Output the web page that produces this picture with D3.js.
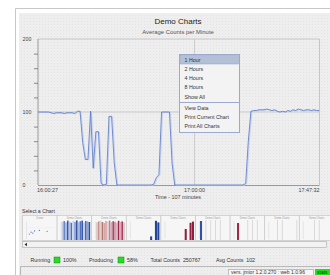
<!DOCTYPE html>
<html><head><meta charset="utf-8">
<script src="https://cdn.jsdelivr.net/npm/d3@7"></script>
<style>
body{margin:0;background:#fff;}
svg{display:block;font-family:"Liberation Sans",Arial,sans-serif;}
</style>
</head><body>
<svg id="c" width="330" height="275"></svg>
<script>
// ---------- DATA ----------
const chartTitle = "Demo Charts";
const chartSubtitle = "Average Counts per Minute";
const xAxisTitle = "Time - 107 minutes";
const startTime = "16:00:27";
const endTime = "17:47:32";
const xTickLabels = ["16:00:27", "17:00:00", "17:47:32"];
const yTickLabels = [0, 100, 200];
const yMinorTicks = [20, 40, 60, 80, 120, 140, 160, 180];
// one value per minute from startTime
const counts = [
  100,100,100,100,100,99,98,99,99,99,98,99,99,99,98,101,101,58,35,35,
  101,23,73,73,2,0,1,94,94,30,0,
  0,0,0,0,0,0,0,0,0,0,0,0,0,
  1,10,14,100,100,100,100,30,0,
  0,0,0,0,0,0,0,0,0,0,0,0,0,0,0,0,0,0,0,0,0,0,0,0,0,0,
  2,60,101,
  102,102,103,103,103,104,103,102,103,101,100,101,100,102,101,103,102,104,103,102,103,103,102,103,102,102
];
const menuRanges = ["1 Hour", "2 Hours", "4 Hours", "8 Hours", "Show All"];
const menuActions = ["View Data", "Print Current Chart", "Print All Charts"];
const selectLabel = "Select a Chart";
const thumbTitles = ["Demo", "Demo Charts", "Demo Charts", "Demo Charts", "Demo Charts", "Demo Charts", "Demo Charts", "Demo Charts", "Demo Charts"];
const thumbScatterX = [10, 16, 22, 28, 45, 72];
const thumbScatterY = [25, 35, 30, 42, 45, 40];
const thumbBlueDense = [90,95,88,97,92,86,96,91,98,89,94,97,87,95,93,90];
const thumbRedDense  = [88,93,96,90,85,95,92,97,89,94,91,86,96,90,93,88];
const thumbSeries = [
  [0,0,0,0,0,0,0,0,18,0,96,88],
  [0,0,0,0,0,0,0,0,55,0,86,92],
  [95,0,0,0,0,0,0,0,0,0,0,0],
  [0,85,0,0,0,0,0,0,0,0,0,0],
  [0,0,0,0,0,0,0,0,0,0,0,0],
  [0,0,0,0,0,0,0,0,0,0,0,0]
];
const thumbGray = [
  [0,0,0,0,0,0,0,0,0,0,0,0],
  [0,0,0,0,0,0,0,0,0,0,0,0],
  [0,0,100,0,100,0,100,0,100,0,0,0],
  [0,0,0,0,0,100,0,100,0,100,0,0],
  [0,0,0,100,0,100,0,0,0,0,0,100],
  [0,0,0,0,100,0,100,0,0,0,0,0]
];
const statusLabels = ["Running", "Producing"];
const statusValues = ["100%", "58%"];
const totalCountsLabel = "Total Counts  250767";
const avgCountsLabel = "Avg Counts  102";
const versionLabel = "vers. jmior 1.2.0.270 : web 1.0.96";
const statsLabel = "stats";

// ---------- STYLE ----------
const blueShades = ["#c3cde8","#6a86c8","#9caedc","#3a5ca6","#b4c2e4","#4f70bc","#ccd5ec","#7f98d4","#34559e","#a8b8e0","#5273c0","#3b5ca8","#bcc8e6","#4a6bb6","#8ea3d8","#2e4f98"];
const redShades  = ["#dcc0c0","#c09488","#e6ccd0","#b07a70","#d4a8a8","#d49cac","#e8d0d4","#bc8494","#d8a8b4","#a44a66","#c88aa0","#e4b4c2","#962a50","#dcaab8","#aa3a60","#d0c4c4"];
const seriesColors = ["#24449a","#902040","#2f52b0","#a02848","#24449a","#24449a"];

const svg = d3.select("#c");
const defs = svg.append("defs");
const pat = defs.append("pattern").attr("id","dots").attr("width",3).attr("height",3).attr("patternUnits","userSpaceOnUse");
pat.append("rect").attr("width",3).attr("height",3).attr("fill","#eeeeee");
pat.append("rect").attr("width",1).attr("height",1).attr("fill","#e3e3e3");

// outer frame
svg.append("rect").attr("width",330).attr("height",275).attr("fill","#fff");
svg.append("path").attr("d","M15.5,275V8.5H330").attr("fill","none").attr("stroke","#c8c8c8");
svg.append("rect").attr("x",19).attr("y",13).attr("width",311).attr("height",262).attr("fill","url(#dots)");

// title
svg.append("text").attr("x",178).attr("y",24).attr("text-anchor","middle").attr("font-size",8).attr("fill","#222").text(chartTitle);
svg.append("text").attr("x",178).attr("y",33.5).attr("text-anchor","middle").attr("font-size",5.9).attr("fill","#555").text(chartSubtitle);

// scales
const parse = d3.timeParse("%H:%M:%S");
const t0 = parse(startTime), t1 = parse(endTime);
const x = d3.scaleTime().domain([t0, t1]).range([38, 319.5]);
const y = d3.scaleLinear().domain([0, 200]).range([185, 39]);

// plot frame
svg.append("path").attr("d",`M${x.range()[0]},${y(200)}H${x.range()[1]}V${y(0)}`).attr("fill","none").attr("stroke","#c6c6c6").attr("stroke-width",1);
// grid
svg.append("line").attr("x1",x.range()[0]).attr("x2",x.range()[1]).attr("y1",y(100)).attr("y2",y(100)).attr("stroke","#c8c8c8");
svg.append("line").attr("x1",x(parse("17:00:00"))).attr("x2",x(parse("17:00:00"))).attr("y1",y(200)).attr("y2",y(0)).attr("stroke","#cccccc");

// y axis
const yAxis = d3.axisLeft(y).tickValues(yMinorTicks).tickSize(4).tickFormat("");
const gy = svg.append("g").attr("transform",`translate(${x.range()[0]},0)`).call(yAxis);
gy.select(".domain").attr("stroke","#9a9a9a").attr("d",`M0,${y(200)}V${y(0)}`);
gy.selectAll(".tick line").attr("stroke","#888");
svg.selectAll(".ylab").data(yTickLabels).enter().append("text").attr("class","ylab")
  .attr("x",22.5).attr("y",d=>y(d)+1.8).attr("font-size",5.3).attr("fill","#444").text(d=>d);

// x axis
svg.append("line").attr("x1",x.range()[0]).attr("x2",x.range()[1]).attr("y1",y(0)+0.5).attr("y2",y(0)+0.5).attr("stroke","#9a9a9a");
const anchors = ["start","middle","end"];
svg.selectAll(".xlab").data(xTickLabels).enter().append("text").attr("class","xlab")
  .attr("x",(d,i)=>x(parse(d)) + (i==0?-1:0))
  .attr("y",191.5).attr("text-anchor",(d,i)=>anchors[i]).attr("font-size",5.4).attr("fill","#444").text(d=>d);
svg.append("text").attr("x",178).attr("y",198.5).attr("text-anchor","middle").attr("font-size",5.4).attr("fill","#444").text(xAxisTitle);

// line
const pts = counts.map((v,i)=>({t:new Date(t0.getTime()+i*60000), v}));
const line = d3.line().x(d=>x(d.t)).y(d=>y(d.v));
svg.append("path").datum(pts).attr("d",line).attr("fill","none").attr("stroke","#c2cdec").attr("stroke-width",0.9).attr("transform","translate(1,0.4)");
svg.append("path").datum(pts).attr("d",line).attr("fill","none").attr("stroke","#5a7acb").attr("stroke-width",0.85);

// popup menu
const mx = 179, my = 54, mw = 60, mh = 78, rowH = 9.2;
const menu = svg.append("g");
menu.append("rect").attr("x",mx+0.5).attr("y",my+0.5).attr("width",mw).attr("height",mh).attr("fill","#f3f3f4").attr("stroke","#9caad0");
menu.append("rect").attr("x",mx+1.5).attr("y",my+1.5).attr("width",mw-2).attr("height",rowH-0.7).attr("fill","#b4c0d6").attr("stroke","#8e9fc6").attr("stroke-width",0.5);
menu.selectAll(".mr").data(menuRanges).enter().append("text").attr("class","mr")
  .attr("x",mx+5.5).attr("y",(d,i)=>my+7.8+i*rowH).attr("font-size",5.3).attr("fill","#333").text(d=>d);
menu.append("line").attr("x1",mx+0.5).attr("x2",mx+mw+0.5).attr("y1",my+48.5).attr("y2",my+48.5).attr("stroke","#9caad0");
menu.selectAll(".ma").data(menuActions).enter().append("text").attr("class","ma")
  .attr("x",mx+5.5).attr("y",(d,i)=>my+55.8+i*rowH).attr("font-size",5.3).attr("fill","#333").text(d=>d);

// select a chart
svg.append("text").attr("x",22).attr("y",212.5).attr("font-size",5.2).attr("fill","#333").text(selectLabel);

// thumbnails
const thumbW = 34.6, thumbTop = 215.5, thumbBot = 240.5;
const thumbs = svg.append("g");
thumbTitles.forEach((title,i)=>{
  const x0 = 22.5 + i*thumbW;
  const g = thumbs.append("g");
  g.append("rect").attr("x",x0).attr("y",thumbTop).attr("width",thumbW).attr("height",thumbBot-thumbTop).attr("fill","#f6f6f6").attr("stroke","#c8c8c8").attr("stroke-width",0.7);
  g.append("text").attr("x",x0+thumbW/2).attr("y",thumbTop+3.8).attr("text-anchor","middle").attr("font-size",2.6).attr("fill","#999").text(title);
  g.append("line").attr("x1",x0+4).attr("x2",x0+4).attr("y1",thumbTop+6).attr("y2",thumbBot-1.5).attr("stroke","#d4d4d4").attr("stroke-width",0.5);
  const tx = d3.scaleBand().range([x0+4.5, x0+thumbW-1.5]).paddingInner(0.15);
  const ty = d3.scaleLinear().domain([0,100]).range([thumbBot-0.5, thumbTop+4.5]);
  if (i===0) {
    const sx = d3.scaleLinear().domain([0,100]).range([x0+4, x0+thumbW-2]);
    const sy = d3.scaleLinear().domain([0,100]).range([thumbBot-2, thumbTop+5]);
    g.append("line").attr("x1",x0+5).attr("x2",x0+thumbW-3).attr("y1",sy(60)).attr("y2",sy(60)).attr("stroke","#cfcfcf").attr("stroke-width",0.4).attr("stroke-dasharray","0.6,1");
    g.selectAll(".sd").data(thumbScatterX).enter().append("circle").attr("cx",d=>sx(d)).attr("cy",(d,j)=>sy(thumbScatterY[j])).attr("r",0.6).attr("fill","#4a6ac0");
  } else if (i===1 || i===2) {
    const vals = i===1 ? thumbBlueDense : thumbRedDense;
    const shades = i===1 ? blueShades : redShades;
    tx.domain(d3.range(vals.length)).paddingInner(0.1);
    g.selectAll(".b").data(vals).enter().append("rect").attr("x",(d,j)=>tx(j)).attr("width",tx.bandwidth())
      .attr("y",d=>ty(d)).attr("height",d=>ty(0)-ty(d)).attr("fill",(d,j)=>shades[j]);
  } else {
    const gray = thumbGray[i-3], ser = thumbSeries[i-3];
    tx.domain(d3.range(ser.length));
    g.selectAll(".gb").data(gray.map((v,j)=>({v,j})).filter(d=>d.v>0)).enter().append("rect")
      .attr("x",d=>tx(d.j)+tx.bandwidth()/2-0.5).attr("width",1).attr("y",d=>ty(d.v)).attr("height",d=>ty(0)-ty(d.v)).attr("fill","#dadada");
    g.selectAll(".sb").data(ser.map((v,j)=>({v,j})).filter(d=>d.v>0)).enter().append("rect")
      .attr("x",d=>tx(d.j)).attr("width",tx.bandwidth()).attr("y",d=>ty(d.v)).attr("height",d=>ty(0)-ty(d.v)).attr("fill",seriesColors[i-3]);
  }
});

// scrollbar
svg.append("rect").attr("x",22.5).attr("y",241.5).attr("width",304).attr("height",6).attr("fill","#f2f2f2").attr("stroke","#b4b4b4").attr("stroke-width",0.7);
svg.append("path").attr("d","M24.5,244.5L27,242.8V246.2Z").attr("fill","#333");

// status row
const sy0 = 261.8;
svg.append("text").attr("x",30.5).attr("y",sy0).attr("font-size",5.3).attr("fill","#333").text(statusLabels[0]);
svg.append("rect").attr("x",54).attr("y",257).attr("width",6).attr("height",6).attr("fill","#22e01c").attr("stroke","#2a7a2a").attr("stroke-width",0.5);
svg.append("text").attr("x",63).attr("y",sy0).attr("font-size",5.3).attr("fill","#333").text(statusValues[0]);
svg.append("text").attr("x",89).attr("y",sy0).attr("font-size",5.3).attr("fill","#333").text(statusLabels[1]);
svg.append("rect").attr("x",118).attr("y",257).attr("width",6).attr("height",6).attr("fill","#22e01c").attr("stroke","#2a7a2a").attr("stroke-width",0.5);
svg.append("text").attr("x",127).attr("y",sy0).attr("font-size",5.3).attr("fill","#333").text(statusValues[1]);
svg.append("text").attr("x",150.5).attr("y",sy0).attr("font-size",5.3).attr("fill","#333").style("white-space","pre").text(totalCountsLabel);
svg.append("text").attr("x",216).attr("y",sy0).attr("font-size",5.3).attr("fill","#333").style("white-space","pre").text(avgCountsLabel);

// bottom bar
svg.append("path").attr("d","M20.5,275V266.5H330").attr("fill","none").attr("stroke","#b8b8b8");
svg.append("rect").attr("x",228.5).attr("y",269.5).attr("width",85).attr("height",7).attr("fill","#f7f7f7").attr("stroke","#a8a8a8").attr("stroke-width",0.7);
svg.append("text").attr("x",231).attr("y",274.3).attr("font-size",5).attr("fill","#333").text(versionLabel);
svg.append("rect").attr("x",315).attr("y",269).attr("width",16).attr("height",7).attr("fill","#1fe01a");
svg.append("text").attr("x",317).attr("y",274.3).attr("font-size",5).attr("fill","#114411").text(statsLabel);
</script>
</body></html>
